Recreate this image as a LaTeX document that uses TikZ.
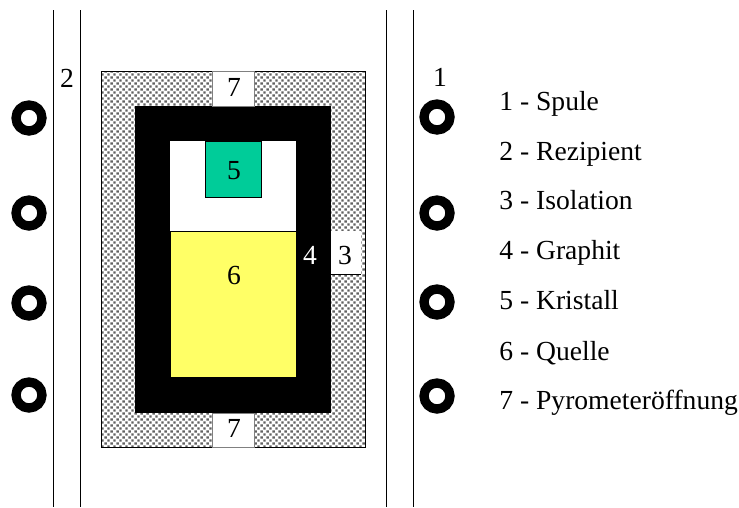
\documentclass[tikz,border=0pt]{standalone}
\usepackage{fontspec}
\setmainfont{Liberation Serif}
\usetikzlibrary{patterns}
\pgfdeclarepatterninherentlycolored{isolationdots}{\pgfpointorigin}{\pgfqpoint{3.4pt}{3.4pt}}{\pgfqpoint{3.4pt}{3.4pt}}{%
  \pgfsetfillcolor{black!62}%
  \pgfpathrectangle{\pgfqpoint{0.2pt}{0.2pt}}{\pgfqpoint{1.3pt}{1.3pt}}%
  \pgfpathrectangle{\pgfqpoint{1.9pt}{1.9pt}}{\pgfqpoint{1.3pt}{1.3pt}}%
  \pgfusepath{fill}}
\definecolor{kristall}{RGB}{0,204,153}
\definecolor{quelle}{RGB}{255,255,102}
\tikzset{
  label/.style={inner sep=0pt, anchor=base, font=\fontsize{15.7pt}{17pt}\selectfont},
  legend/.style={label, anchor=base west},
  coil/.style={draw=black, line width=5.3pt, fill=white}
}
\begin{document}
\begin{tikzpicture}[x=0.02cm,y=-0.02cm]
    \useasboundingbox (0,0) rectangle (739,507);
    % Rezipient walls
    \foreach \wallx in {53,80,386,413}
        \draw[line width=0.4pt] (\wallx,10) -- (\wallx,507);
    % Isolation
    \fill[white] (101,71) rectangle (365,447);
    \fill[pattern=isolationdots] (101,71) rectangle (365,447);
    \draw[line width=0.4pt] (101,71) rectangle (365,447);
    % Graphit
    \fill[black] (135,106) rectangle (331,413);
    \fill[white] (170,141) rectangle (296,231);
    \draw[fill=quelle, line width=0.4pt] (170,231) rectangle (296,377);
    \draw[fill=kristall, line width=0.4pt] (205,141) rectangle (261,197);
    % openings
    \draw[fill=white, draw=black!50, line width=0.4pt] (212,71) rectangle (254,106);
    \draw[fill=white, draw=black!50, line width=0.4pt] (212,413) rectangle (254,447);
    \fill[white] (331,231) rectangle (361,274);
    \draw[line width=0.4pt] (331,274) -- (361,274);
    % coil
    \foreach \coilx/\coily in {29/118,29/213,29/303,29/395,437/117,437/213,437/302,437/396}
        \draw[coil] (\coilx,\coily) circle (13);
    % numbers in the picture
    \node[label] (n1) at (440,86) {1};
    \node[label] (n2) at (67,87) {2};
    \node[label] (n3) at (345,264) {3};
    \node[label, text=white] (n4) at (310,264) {4};
    \node[label] (n5) at (234,179) {5};
    \node[label] (n6) at (234,284) {6};
    \node[label] (n7a) at (234,96) {7};
    \node[label] (n7b) at (234,437) {7};
    % legend
    \node[legend] (spule) at (499,110) {1 - Spule};
    \node[legend] (rezipient) at (499,160) {2 - Rezipient};
    \node[legend] (isolation) at (499,209) {3 - Isolation};
    \node[legend] (graphit) at (499,259) {4 - Graphit};
    \node[legend] (kristall) at (499,309) {5 - Kristall};
    \node[legend] (quelle) at (499,360) {6 - Quelle};
    \node[legend] (pyro) at (499,409) {7 - Pyrometeröffnung};
\end{tikzpicture}
\end{document}
